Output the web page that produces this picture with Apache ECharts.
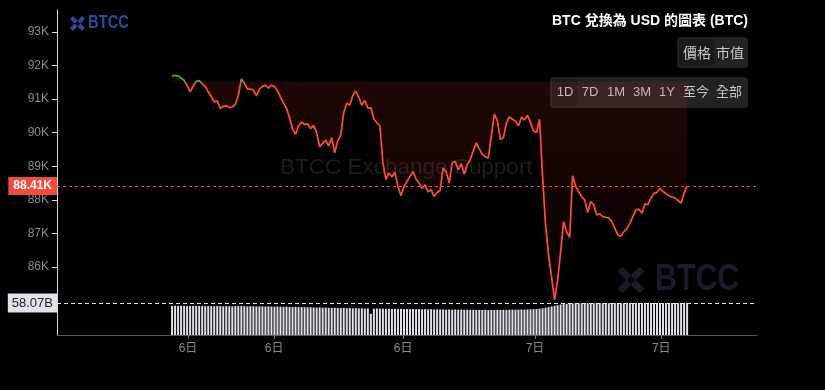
<!DOCTYPE html>
<html>
<head>
<meta charset="utf-8">
<script src="https://cdn.jsdelivr.net/npm/echarts@6/dist/echarts.min.js"></script>
<style>
html,body{margin:0;padding:0;background:#000;}
#chart{width:825px;height:390px;}
</style>
</head>
<body>
<div id="chart"></div>
<script>
// Price (thousand USD), one value per period
const prices = [
  91.70, 91.70, 91.69, 91.63, 91.56, 91.40, 91.22, 91.38, 91.53, 91.55,
  91.46, 91.38, 91.22, 91.08, 90.92, 90.95, 90.72, 90.79, 90.80, 90.75,
  90.76, 90.84, 91.10, 91.60, 91.48, 91.30, 91.30, 91.27, 91.10, 91.30,
  91.38, 91.42, 91.33, 91.42, 91.37, 91.25, 91.06, 90.88, 90.72, 90.45,
  90.10, 89.95, 90.20, 90.32, 90.24, 90.27, 90.12, 90.22, 90.00, 89.58,
  89.68, 89.78, 89.60, 89.85, 89.40, 89.75, 89.93, 90.60, 90.88, 90.82,
  91.10, 91.24, 91.05, 90.82, 90.96, 90.73, 90.75, 90.40, 90.30, 90.20,
  89.10, 88.60, 88.80, 88.68, 88.82, 88.40, 88.12, 88.40, 88.55, 88.70,
  88.84, 88.62, 88.50, 88.34, 88.45, 88.24, 88.30, 88.10, 88.22, 88.28,
  88.95, 88.84, 88.50, 89.10, 89.15, 88.89, 89.08, 88.76, 89.05, 89.20,
  89.45, 89.70, 89.52, 89.36, 89.28, 89.24, 89.90, 90.55, 90.35, 89.80,
  89.85, 90.28, 90.47, 90.40, 90.35, 90.20, 90.46, 90.38, 90.52, 90.30,
  90.05, 90.00, 90.40, 88.70, 87.25, 86.35, 85.70, 85.02, 85.60, 86.45,
  87.35, 87.05, 86.88, 88.72, 88.40, 88.24, 88.09, 88.00, 87.62, 87.95,
  87.85, 87.55, 87.58, 87.50, 87.48, 87.46, 87.35, 87.15, 86.95, 86.92,
  87.05, 87.15, 87.30, 87.50, 87.70, 87.72, 87.60, 87.88, 87.86, 88.05,
  88.19, 88.22, 88.34, 88.25, 88.18, 88.12, 88.08, 88.05, 87.98, 87.90,
  88.20, 88.41
];
// Volume (billion USD), one value per period
const volumes = [
  52.8, 53.1, 52.6, 52.9, 53.0, 52.4, 52.7, 52.9, 52.5, 52.8,
  52.6, 52.3, 52.7, 52.5, 52.2, 52.6, 52.4, 52.1, 52.5, 52.3,
  52.0, 52.4, 52.6, 52.8, 52.2, 51.9, 52.3, 52.0, 51.8, 52.1,
  51.9, 51.6, 52.0, 51.7, 51.5, 51.8, 51.4, 51.2, 51.5, 51.0,
  50.8, 51.1, 50.6, 50.9, 50.4, 50.2, 50.5, 50.0, 49.8, 50.1,
  49.6, 49.9, 49.4, 49.2, 49.5, 49.0, 48.8, 49.1, 48.6, 48.9,
  48.4, 48.7, 48.2, 48.5, 48.0, 48.3, 38.5, 47.9, 48.1, 47.7,
  47.9, 47.5, 47.8, 47.3, 47.6, 47.2, 47.4, 47.0, 47.3, 46.9,
  47.1, 46.8, 47.0, 46.6, 46.9, 46.5, 46.8, 46.4, 46.6, 46.2,
  46.5, 46.1, 46.4, 46.0, 46.3, 45.9, 46.2, 45.8, 46.0, 45.7,
  45.9, 45.5, 45.8, 45.4, 45.7, 45.3, 45.6, 45.4, 45.7, 45.5,
  45.8, 45.6, 45.9, 46.0, 45.8, 46.1, 46.3, 46.0, 46.4, 46.6,
  46.9, 47.3, 47.8, 48.6, 49.5, 50.6, 51.8, 53.0, 54.2, 55.3,
  56.1, 56.7, 57.1, 57.4, 57.5, 57.6, 57.5, 57.6, 57.7, 57.6,
  57.7, 57.6, 57.8, 57.7, 57.8, 57.7, 57.8, 57.9, 57.8, 57.9,
  57.8, 57.9, 58.0, 57.9, 58.0, 57.9, 58.0, 58.0, 57.9, 58.0,
  58.0, 58.0, 57.9, 58.0, 58.0, 58.0, 58.1, 58.0, 58.0, 58.07,
  58.07, 58.07
];
const baselinePrice = 91.52;       // opening reference price
const lastPrice = 88.41;
const lastVolume = 58.07;
const priceTicks = [86, 87, 88, 89, 90, 91, 92, 93];
const timeTickPos = [5.3, 33.9, 76.7, 120.5, 162.4];
const timeTickLabels = ['6日', '6日', '6日', '7日', '7日'];
const rangeButtons = ['1D', '7D', '1M', '3M', '1Y', '至今', '全部'];

const FONT = "'Liberation Sans','Noto Sans CJK TC',sans-serif";
const chart = echarts.init(document.getElementById('chart'), null, {renderer: 'canvas'});

const priceData = prices.map((v, i) => [i, v]);
const volData = volumes.map((v, i) => [i, v]);

const btnX = [565, 590, 616, 642, 667, 696, 729];
const btnGraphics = rangeButtons.map((t, k) => ({
  type: 'text', x: btnX[k], y: 92,
  style: {text: t, fill: '#c8c8c8', font: "13px 'Liberation Sans','Noto Sans CJK TC',sans-serif",
    align: 'center', verticalAlign: 'middle'}
}));

const option = {
  backgroundColor: '#000',
  animation: false,
  grid: {left: 57, right: 68, top: 10, bottom: 55},
  xAxis: {
    type: 'value',
    min: -38.2, max: 194.2,
    splitLine: {show: false},
    axisLine: {show: true, onZero: false, lineStyle: {color: '#5a5a5a', width: 1}},
    axisTick: {show: true, length: 4, lineStyle: {color: '#777'}, customValues: timeTickPos},
    axisLabel: {
      color: '#8a8a8a', fontSize: 12, fontFamily: FONT, margin: 8,
      customValues: timeTickPos,
      formatter: (v) => { const k = timeTickPos.indexOf(v); return k >= 0 ? timeTickLabels[k] : ''; }
    }
  },
  yAxis: [{
    type: 'value',
    min: 83.974, max: 93.655,
    splitLine: {show: false},
    axisLine: {show: true, onZero: false, lineStyle: {color: '#d8d8d8', width: 1}},
    axisTick: {show: true, length: 5, lineStyle: {color: '#e0e0e0'}, customValues: priceTicks},
    axisLabel: {color: '#8a8a8a', fontSize: 12, fontFamily: FONT, margin: 8,
      customValues: priceTicks, formatter: (v) => v + 'K'}
  }, {
    type: 'value', min: 0, max: 589.77, show: false
  }],
  visualMap: {
    show: false, type: 'piecewise', seriesIndex: 0, dimension: 1,
    pieces: [{lt: baselinePrice, color: '#f44b3c'}, {gte: baselinePrice, lte: 200, color: '#2db545'}],
    outOfRange: {color: '#2db545'}
  },
  graphic: [
    // center watermark
    {type: 'text', x: 280, y: 168, z: -10, silent: true,
      style: {text: 'BTCC Exchange Support', fill: '#1e1e1e', font: "22.5px 'Liberation Sans',sans-serif", verticalAlign: 'middle'}},
    // bottom-right watermark
    {type: 'group', x: 617, y: 266, z: -10, silent: true, children: [
      {type: 'line', shape: {x1: 3, y1: 3, x2: 25, y2: 25}, style: {stroke: '#161c2b', lineWidth: 7}},
      {type: 'line', shape: {x1: 25, y1: 3, x2: 3, y2: 25}, style: {stroke: '#161c2b', lineWidth: 7}},
      {type: 'rect', shape: {x: 11, y: 11, width: 6, height: 6}, rotation: Math.PI/4, originX: 14, originY: 14, style: {fill: '#000'}},
      {type: 'text', x: 38, y: 14, scaleX: 0.82, style: {text: 'BTCC', fill: '#161c2b', font: "bold 37px 'Liberation Sans',sans-serif", verticalAlign: 'middle'}}
    ]},
    // top-left logo
    {type: 'group', x: 70, y: 16, children: [
      {type: 'line', shape: {x1: 1.5, y1: 1.5, x2: 13.5, y2: 13.5}, style: {stroke: '#2e4b9c', lineWidth: 4}},
      {type: 'line', shape: {x1: 13.5, y1: 1.5, x2: 1.5, y2: 13.5}, style: {stroke: '#2e4b9c', lineWidth: 4}},
      {type: 'rect', shape: {x: 5.5, y: 5.5, width: 4, height: 4}, rotation: Math.PI/4, originX: 7.5, originY: 7.5, style: {fill: '#000'}},
      {type: 'text', x: 18, y: 7.5, scaleX: 0.82, style: {text: 'BTCC', fill: '#2e4b9c', font: "bold 18px 'Liberation Sans',sans-serif", verticalAlign: 'middle'}}
    ]},
    // title
    {type: 'text', x: 748, y: 21,
      style: {text: 'BTC 兌換為 USD 的圖表 (BTC)', fill: '#fff', font: "bold 14px 'Liberation Sans','Noto Sans CJK TC',sans-serif", align: 'right', verticalAlign: 'middle'}},
    // buttons group 1
    {type: 'rect', x: 677, y: 37, shape: {width: 71, height: 31, r: 4}, style: {fill: '#222224'}},
    {type: 'rect', x: 679, y: 39, shape: {width: 35, height: 27, r: 3}, style: {fill: '#1a1a1a'}},
    {type: 'text', x: 697, y: 53, style: {text: '價格', fill: '#c8c8c8', font: "14px 'Noto Sans CJK TC',sans-serif", align: 'center', verticalAlign: 'middle'}},
    {type: 'text', x: 730, y: 53, style: {text: '市值', fill: '#c8c8c8', font: "14px 'Noto Sans CJK TC',sans-serif", align: 'center', verticalAlign: 'middle'}},
    // buttons group 2
    {type: 'rect', x: 550, y: 77, shape: {width: 198, height: 31, r: 4}, style: {fill: '#222224'}},
    {type: 'rect', x: 552, y: 79, shape: {width: 25, height: 27, r: 3}, style: {fill: '#1a1a1a'}}
  ].concat(btnGraphics),
  series: [{
    type: 'line',
    data: priceData,
    xAxisIndex: 0, yAxisIndex: 0,
    showSymbol: false, symbol: 'none',
    lineStyle: {width: 1.8},
    z: 5,
    areaStyle: {
      origin: baselinePrice,
      color: new echarts.graphic.LinearGradient(0, 0, 0, 1, [
        {offset: 0, color: 'rgba(210,45,30,0.22)'},
        {offset: 1, color: 'rgba(210,45,30,0.04)'}
      ])
    },
    markLine: {
      silent: true, symbol: ['none', 'none'],
      lineStyle: {color: '#f24a3b', type: [3, 3], width: 1},
      label: {position: 'start', distance: 0, formatter: lastPrice.toFixed(2) + 'K',
        backgroundColor: '#f24a3b', color: '#fff', fontSize: 12, fontWeight: 'bold', fontFamily: FONT,
        padding: [3, 5, 3, 5]},
      data: [{yAxis: lastPrice}]
    }
  }, {
    type: 'bar',
    data: volData,
    xAxisIndex: 0, yAxisIndex: 1,
    barWidth: 2,
    itemStyle: {color: '#dde1e8'},
    z: 3,
    markLine: {
      silent: true, symbol: ['none', 'none'],
      lineStyle: {color: '#e6e6e6', type: [4, 3], width: 1},
      label: {position: 'start', distance: 0, formatter: lastVolume.toFixed(2) + 'B',
        backgroundColor: '#dfe3ea', color: '#222', fontSize: 13, fontFamily: FONT,
        padding: [3, 4, 3, 4]},
      data: [{yAxis: lastVolume}]
    }
  }]
};
chart.setOption(option);
</script>
</body>
</html>
